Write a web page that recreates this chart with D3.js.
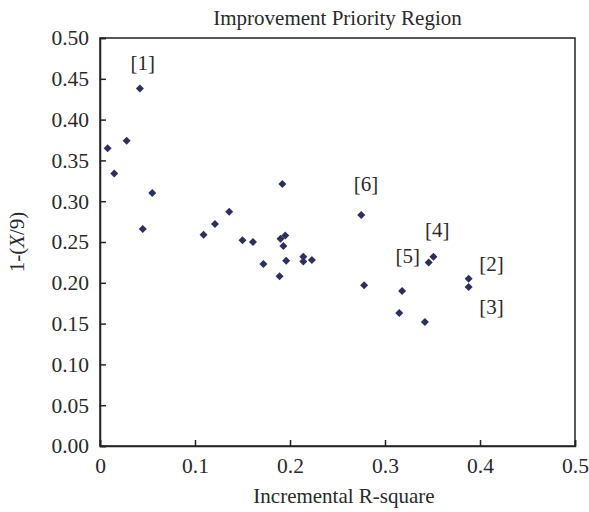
<!DOCTYPE html>
<html>
<head>
<meta charset="utf-8">
<script src="https://cdn.jsdelivr.net/npm/d3@7"></script>
<style>
  body { margin: 0; background: #fff; }
  text { font-family: "Liberation Serif", "Times New Roman", serif; fill: #2a2a2a; }
</style>
</head>
<body>
<svg id="chart"></svg>
<script>
// incremental R-square (x) and 1-(X/9) (y)
const rSquare = [0.008, 0.015, 0.028, 0.042, 0.045, 0.055, 0.109, 0.121, 0.136, 0.150,
                 0.161, 0.172, 0.189, 0.190, 0.192, 0.193, 0.195, 0.196, 0.214, 0.214,
                 0.223, 0.275, 0.278, 0.315, 0.318, 0.342, 0.346, 0.351, 0.388, 0.388];
const priority = [0.365, 0.334, 0.374, 0.438, 0.266, 0.310, 0.259, 0.272, 0.287, 0.252,
                  0.250, 0.223, 0.208, 0.254, 0.321, 0.245, 0.258, 0.227, 0.232, 0.226,
                  0.228, 0.283, 0.197, 0.163, 0.190, 0.152, 0.225, 0.232, 0.205, 0.195];

// annotation labels and where they sit (data coords)
const noteText = ["[1]", "[6]", "[4]", "[5]", "[2]", "[3]"];
const noteX = [0.045, 0.280, 0.355, 0.324, 0.412, 0.412];
const noteY = [0.469, 0.321, 0.265, 0.233, 0.223, 0.170];

const xTicks = [0, 0.1, 0.2, 0.3, 0.4, 0.5];
const yTicks = [0, 0.05, 0.1, 0.15, 0.2, 0.25, 0.3, 0.35, 0.4, 0.45, 0.5];

const width = 589, height = 512;
const margin = { top: 38, right: 14, bottom: 66, left: 100 };

const svg = d3.select("#chart")
  .attr("width", width)
  .attr("height", height);

const x = d3.scaleLinear().domain([0, 0.5]).range([margin.left, width - margin.right]);
const y = d3.scaleLinear().domain([0, 0.5]).range([height - margin.bottom, margin.top]);

// frame
svg.append("rect")
  .attr("x", x(0)).attr("y", y(0.5))
  .attr("width", x(0.5) - x(0)).attr("height", y(0) - y(0.5))
  .attr("fill", "none").attr("stroke", "#222").attr("stroke-width", 1.5);

const xAxis = svg.append("g")
  .attr("transform", `translate(0,${y(0)})`)
  .call(d3.axisBottom(x).tickValues(xTicks).tickSize(-6).tickPadding(12)
    .tickFormat(d => d === 0 ? "0" : d3.format(".1f")(d)));

const yAxis = svg.append("g")
  .attr("transform", `translate(${x(0)},0)`)
  .call(d3.axisLeft(y).tickValues(yTicks).tickSize(-6).tickPadding(11)
    .tickFormat(d3.format(".2f")));

[xAxis, yAxis].forEach(g => {
  g.select(".domain").attr("stroke", "#222").attr("stroke-width", 1.5);
  g.selectAll(".tick line").attr("stroke", "#222").attr("stroke-width", 1.5);
  g.selectAll(".tick text").attr("fill", "#2a2a2a")
    .style("font-family", "Liberation Serif, serif").style("font-size", "21.5px");
});
xAxis.selectAll(".tick text").attr("y", 27).attr("dy", 0);

// points
const diamond = d3.symbol().type(d3.symbolSquare).size(32);
svg.append("g")
  .selectAll("path")
  .data(rSquare.map((v, i) => [v, priority[i]]))
  .join("path")
  .attr("d", diamond)
  .attr("transform", d => `translate(${x(d[0])},${y(d[1])}) rotate(45)`)
  .attr("fill", "#2d2f5f");

// notes
svg.append("g")
  .selectAll("text")
  .data(noteText)
  .join("text")
  .attr("x", (d, i) => x(noteX[i]))
  .attr("y", (d, i) => y(noteY[i]))
  .attr("text-anchor", "middle")
  .attr("dominant-baseline", "central")
  .style("font-size", "21px")
  .text(d => d);

// titles
svg.append("text")
  .attr("x", (x(0) + x(0.5)) / 2).attr("y", 25)
  .attr("text-anchor", "middle")
  .style("font-size", "21px")
  .text("Improvement Priority Region");

svg.append("text")
  .attr("x", 344).attr("y", 503)
  .attr("text-anchor", "middle")
  .style("font-size", "21px")
  .text("Incremental R-square");

const yLab = svg.append("text")
  .attr("transform", `translate(24,${(y(0) + y(0.5)) / 2}) rotate(-90)`)
  .attr("text-anchor", "middle")
  .style("font-size", "21px");
yLab.append("tspan").text("1-(");
yLab.append("tspan").attr("font-style", "italic").text("X");
yLab.append("tspan").text("/9)");
</script>
</body>
</html>
